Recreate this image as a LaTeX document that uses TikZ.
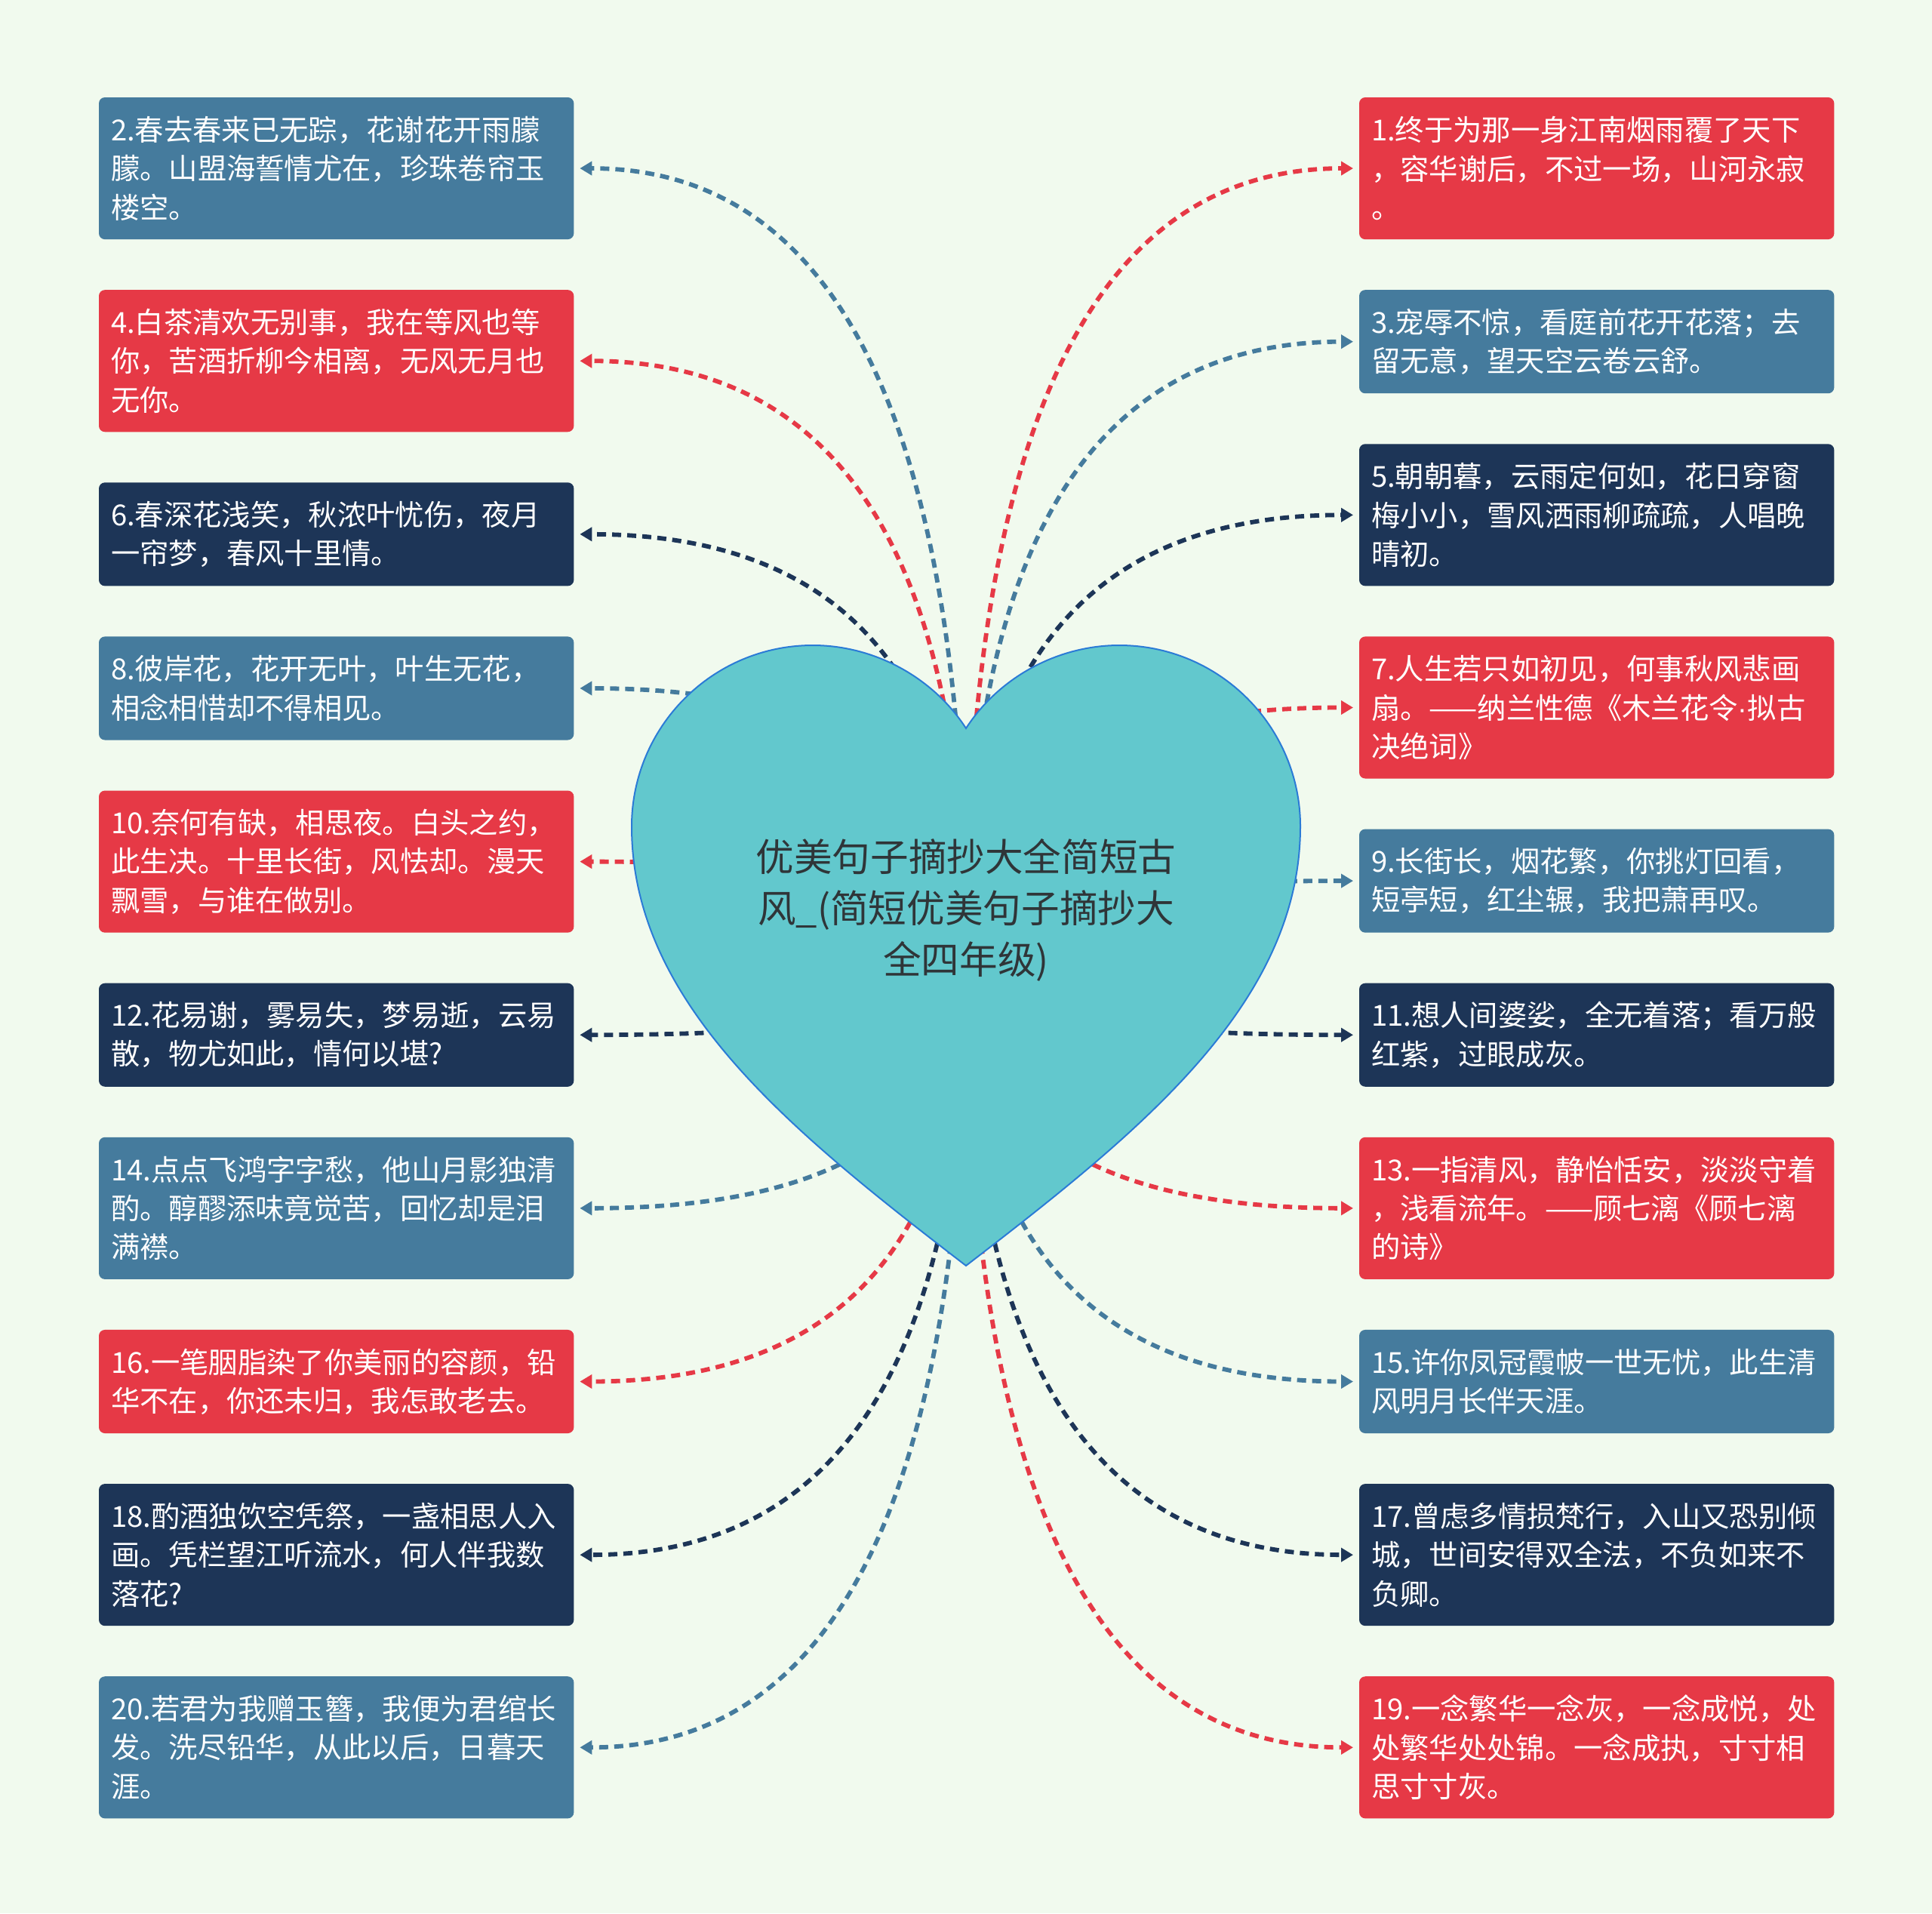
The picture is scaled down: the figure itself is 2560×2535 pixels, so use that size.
\documentclass[tikz,border=0pt]{standalone}
\usepackage{fontspec}
\setmainfont{Noto Sans CJK SC}
\newfontfamily\latinfont{Liberation Sans}
\usepackage{xcolor}
\usetikzlibrary{arrows.meta, positioning, calc}
\definecolor{qred}{HTML}{E63946}
\definecolor{qblue}{HTML}{457B9D}
\definecolor{qnavy}{HTML}{1D3557}
\definecolor{paper}{HTML}{F1FAEE}
\definecolor{heartfill}{HTML}{62C8CD}
\definecolor{heartline}{HTML}{2B7BD6}
\definecolor{titlegray}{HTML}{2F3538}

\begin{document}
\begin{tikzpicture}[
    x=0.01cm, y=-0.01cm,
    node distance=0.67cm,
    quote/.style={rectangle, rounded corners=0.08cm, fill=#1, text=white, align=left, text width=5.97cm, inner xsep=0.16cm, inner ysep=0.05cm, outer sep=0pt, font=\fontsize{10.9pt}{14.6pt}\selectfont},
    three/.style={minimum height=1.88cm},
    two/.style={minimum height=1.37cm},
    link/.style={draw=#1, line width=0.058cm, dash pattern=on 0.12cm off 0.08cm, -{Triangle[length=0.16cm, width=0.18cm]}, shorten >=0.08cm,
        to path={.. controls ($(\tikztostart)!0.7!(\tikztostart |- \tikztotarget)$) and ($(\tikztotarget)!0.65!(\tikztostart |- \tikztotarget)$) .. (\tikztotarget)}},
    title/.style={align=center, text=titlegray, font=\fontsize{14.4pt}{19.3pt}\selectfont},
]
    % Page
    \useasboundingbox (0,0) rectangle (2560,2535);
    \fill[paper] (0,0) rectangle (2560,2535);

    % Left column (even numbers)
    \node[quote=qblue, three, anchor=north west] (b2) at (131,129) {2.春去春来已无踪，花谢花开雨朦\\朦。山盟海誓情尤在，珍珠卷帘玉\\楼空。};
    \node[quote=qred, three, below=of b2] (b4) {4.白茶清欢无别事，我在等风也等\\你，苦酒折柳今相离，无风无月也\\无你。};
    \node[quote=qnavy, two, below=of b4] (b6) {6.春深花浅笑，秋浓叶忧伤，夜月\\一帘梦，春风十里情。};
    \node[quote=qblue, two, below=of b6] (b8) {8.彼岸花，花开无叶，叶生无花，\\相念相惜却不得相见。};
    \node[quote=qred, three, below=of b8] (b10) {10.奈何有缺，相思夜。白头之约，\\此生决。十里长街，风怯却。漫天\\飘雪，与谁在做别。};
    \node[quote=qnavy, two, below=of b10] (b12) {12.花易谢，雾易失，梦易逝，云易\\散，物尤如此，情何以堪?};
    \node[quote=qblue, three, below=of b12] (b14) {14.点点飞鸿字字愁，他山月影独清\\酌。醇醪添味竟觉苦，回忆却是泪\\满襟。};
    \node[quote=qred, two, below=of b14] (b16) {16.一笔胭脂染了你美丽的容颜，铅\\华不在，你还未归，我怎敢老去。};
    \node[quote=qnavy, three, below=of b16] (b18) {18.酌酒独饮空凭祭，一盏相思人入\\画。凭栏望江听流水，何人伴我数\\落花?};
    \node[quote=qblue, three, below=of b18] (b20) {20.若君为我赠玉簪，我便为君绾长\\发。洗尽铅华，从此以后，日暮天\\涯。};

    % Right column (odd numbers)
    \node[quote=qred, three, anchor=north west] (b1) at (1801,129) {1.终于为那一身江南烟雨覆了天下\\，容华谢后，不过一场，山河永寂\\。};
    \node[quote=qblue, two, below=of b1] (b3) {3.宠辱不惊，看庭前花开花落；去\\留无意，望天空云卷云舒。};
    \node[quote=qnavy, three, below=of b3] (b5) {5.朝朝暮，云雨定何如，花日穿窗\\梅小小，雪风洒雨柳疏疏，人唱晚\\晴初。};
    \node[quote=qred, three, below=of b5] (b7) {7.人生若只如初见，何事秋风悲画\\\mbox{扇。——纳兰性德《木兰花令{\latinfont ·}拟古}\\决绝词》};
    \node[quote=qblue, two, below=of b7] (b9) {9.长街长，烟花繁，你挑灯回看，\\短亭短，红尘辗，我把萧再叹。};
    \node[quote=qnavy, two, below=of b9] (b11) {11.想人间婆娑，全无着落；看万般\\红紫，过眼成灰。};
    \node[quote=qred, three, below=of b11] (b13) {13.一指清风，静怡恬安，淡淡守着\\\mbox{，浅看流年。——顾七漓《顾七漓}\\的诗》};
    \node[quote=qblue, two, below=of b13] (b15) {15.许你凤冠霞帔一世无忧，此生清\\风明月长伴天涯。};
    \node[quote=qnavy, three, below=of b15] (b17) {17.曾虑多情损梵行，入山又恐别倾\\城，世间安得双全法，不负如来不\\负卿。};
    \node[quote=qred, three, below=of b17] (b19) {19.一念繁华一念灰，一念成悦，处\\处繁华处处锦。一念成执，寸寸相\\思寸寸灰。};

    % Connectors, all leaving the middle of the heart
    \coordinate (hc) at (1280,1270);
    \draw[link=qblue] (hc) to (b2.east);
    \draw[link=qred] (hc) to (b4.east);
    \draw[link=qnavy] (hc) to (b6.east);
    \draw[link=qblue] (hc) to (b8.east);
    \draw[link=qred] (hc) to (b10.east);
    \draw[link=qnavy] (hc) to (b12.east);
    \draw[link=qblue] (hc) to (b14.east);
    \draw[link=qred] (hc) to (b16.east);
    \draw[link=qnavy] (hc) to (b18.east);
    \draw[link=qblue] (hc) to (b20.east);
    \draw[link=qred] (hc) to (b1.west);
    \draw[link=qblue] (hc) to (b3.west);
    \draw[link=qnavy] (hc) to (b5.west);
    \draw[link=qred] (hc) to (b7.west);
    \draw[link=qblue] (hc) to (b9.west);
    \draw[link=qnavy] (hc) to (b11.west);
    \draw[link=qred] (hc) to (b13.west);
    \draw[link=qblue] (hc) to (b15.west);
    \draw[link=qnavy] (hc) to (b17.west);
    \draw[link=qred] (hc) to (b19.west);

    % Heart on top of the connectors
    \filldraw[fill=heartfill, draw=heartline, line width=0.02cm]
        (1280,965) .. controls (1324,897) and (1402,855) .. (1483,855)
        .. controls (1616,855) and (1723,963) .. (1723,1095)
        .. controls (1723,1330) and (1510,1500) .. (1280,1677)
        .. controls (1050,1500) and (837,1330) .. (837,1095)
        .. controls (837,963) and (944,855) .. (1077,855)
        .. controls (1158,855) and (1236,897) .. (1280,965) -- cycle;

    % Title
    \node[title] (root) at (1280,1206) {优美句子摘抄大全简短古\\风\_(简短优美句子摘抄大\\全四年级)};
\end{tikzpicture}
\end{document}
